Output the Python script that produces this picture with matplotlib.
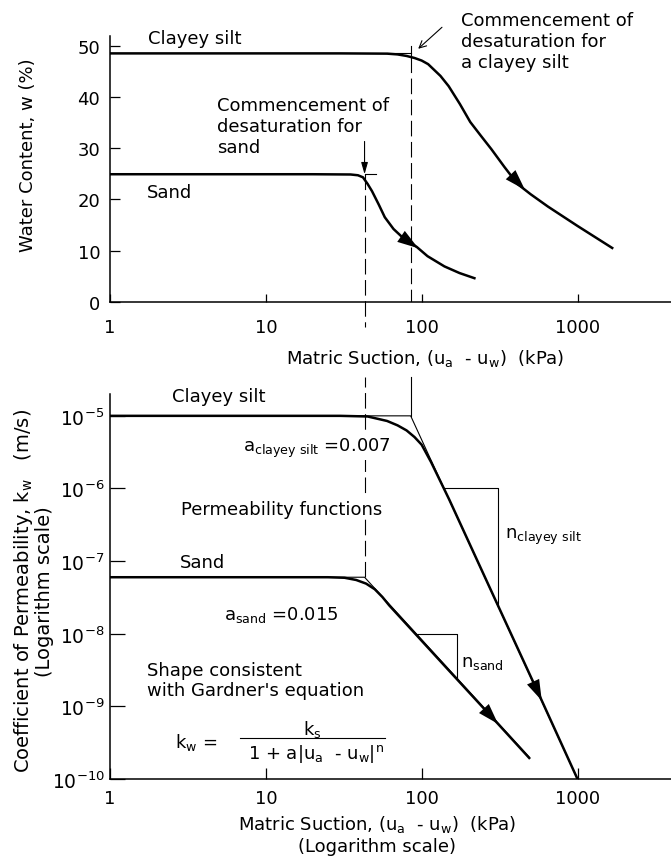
import numpy as np
import matplotlib.pyplot as plt
from matplotlib.ticker import FixedLocator, FixedFormatter, NullLocator

plt.rcParams['font.family'] = ['DejaVu Sans']
plt.rcParams['mathtext.fontset'] = 'dejavusans'
plt.rcParams['mathtext.default'] = 'regular'

# ---- soil-water characteristic curves (top) ----
silt_suction = [1, 30, 60, 70, 80, 90, 100, 110, 132, 149, 176, 205, 240, 280, 340,
                412, 500, 645, 1000, 1670]
silt_w = [48.5, 48.5, 48.45, 48.3, 48.0, 47.6, 47.1, 46.4, 44.1, 42.1, 38.6, 35.1, 32.4,
          29.8, 26.3, 23.0, 21.0, 18.6, 14.8, 10.5]
sand_suction = [1, 20, 35, 39, 42, 45, 48, 53, 58, 66, 77, 93, 109, 140, 175, 218]
sand_w = [24.9, 24.9, 24.85, 24.7, 24.3, 23.0, 21.6, 19.0, 16.5, 14.2, 12.3, 10.7, 8.9,
          6.9, 5.6, 4.6]

# ---- permeability functions (bottom) ----
silt_k_suction = [1, 30, 45, 60, 70, 80, 90, 100, 115, 150, 300, 590, 1000]
silt_k = [1.0e-5, 1.0e-5, 9.8e-6, 8.5e-6, 7.4e-6, 6.3e-6, 5.1e-6, 4.0e-6, 2.3e-6, 7.1e-7,
          2.8e-8, 1.2e-9, 1.0e-10]
sand_k_suction = [1, 25, 32, 38, 44, 50, 56, 62, 80, 150, 309, 490]
sand_k = [6.0e-8, 6.0e-8, 5.9e-8, 5.5e-8, 4.9e-8, 4.1e-8, 3.2e-8, 2.45e-8, 1.35e-8, 3.1e-9,
          5.75e-10, 1.95e-10]

# straight-line asymptotes of Gardner's equation
silt_asym_suction = [1, 85, 1000]
silt_asym_k = [1.0e-5, 1.0e-5, 1.0e-10]
sand_asym_suction = [1, 43, 490]
sand_asym_k = [6.0e-8, 6.0e-8, 2.0e-10]

# commencement of desaturation (kPa)
silt_aev = 85
sand_aev = 43

x_ticks = [1, 10, 100, 1000]
x_labels = ['1', '10', '100', '1000']
w_ticks = [0, 10, 20, 30, 40, 50]
k_ticks = [1e-10, 1e-9, 1e-8, 1e-7, 1e-6, 1e-5]
k_labels = ['10$^{-10}$', '10$^{-9}$', '10$^{-8}$', '10$^{-7}$', '10$^{-6}$', '10$^{-5}$']

FS = 13
HEAVY = 1.8
THIN = 0.8
DASH = (0, (14, 5))


def head(ax, xs, ys, x_tip, logy=False):
    # filled arrow head sitting on a curve
    lx = np.log10(xs)
    yy = np.log10(ys) if logy else np.asarray(ys, float)
    t1 = np.log10(x_tip)
    t0 = t1 - 0.1
    y1 = np.interp(t1, lx, yy)
    y0 = np.interp(t0, lx, yy)
    if logy:
        y0, y1 = 10**y0, 10**y1
    ax.annotate('', xy=(x_tip, y1), xytext=(10**t0, y0),
                arrowprops=dict(arrowstyle='-|>,head_length=1.0,head_width=0.32',
                                mutation_scale=15, lw=0, fc='k',
                                shrinkA=0, shrinkB=0))


def slope_tri(ax, xs, ks, level, x_right):
    lx = np.log10(xs)
    lk = np.log10(ks)
    x_hit = 10**np.interp(np.log10(level), lk[::-1], lx[::-1])
    k_low = 10**np.interp(np.log10(x_right), lx, lk)
    ax.plot([x_hit, x_right, x_right], [level, level, k_low], color='k', lw=THIN)


fig = plt.figure(figsize=(6.71, 8.62), dpi=100)
ax1 = fig.add_axes([110/671, 0.6488, 561/671, 0.3083])
ax2 = fig.add_axes([110/671, 0.0951, 561/671, 0.4466])

for ax in (ax1, ax2):
    ax.set_xscale('log')
    ax.set_xlim(1, 3981)
    ax.spines['top'].set_visible(False)
    ax.spines['right'].set_visible(False)
    for s in ('left', 'bottom'):
        ax.spines[s].set_linewidth(1.1)
    ax.xaxis.set_major_locator(FixedLocator(x_ticks))
    ax.xaxis.set_major_formatter(FixedFormatter(x_labels))
    ax.xaxis.set_minor_locator(NullLocator())

# ---------------- top ----------------
ax1.set_ylim(0, 51.9)
ax1.set_yticks(w_ticks)
ax1.tick_params(axis='y', direction='in', length=7, width=0.9, labelsize=FS, pad=7)
ax1.tick_params(axis='x', direction='in', length=6, width=0.9, labelsize=FS, pad=12)

ax1.plot(silt_suction, silt_w, color='k', lw=HEAVY)
ax1.plot(sand_suction, sand_w, color='k', lw=HEAVY)
head(ax1, silt_suction, silt_w, 460)
head(ax1, sand_suction, sand_w, 95)

# markers at the commencement of desaturation
ax1.plot([60, silt_aev], [48.5, 48.5], color='k', lw=THIN)
ax1.plot([silt_aev, silt_aev], [50.0, 47.8], color='k', lw=THIN)
ax1.plot([silt_aev, silt_aev], [47.8, 0], color='k', lw=THIN, ls=DASH)
ax1.plot([sand_aev, 51], [24.9, 24.9], color='k', lw=THIN)
ax1.plot([sand_aev, sand_aev], [24.9, -5], color='k', lw=THIN, ls=DASH, clip_on=False)
ax1.annotate('', xy=(sand_aev, 24.9), xytext=(sand_aev, 31.3),
             arrowprops=dict(arrowstyle='-|>,head_length=0.7,head_width=0.2',
                             mutation_scale=10, lw=THIN, color='k',
                             shrinkA=0, shrinkB=0), annotation_clip=False)
ax1.annotate('', xy=(95, 49.4), xytext=(135, 53.6),
             arrowprops=dict(arrowstyle='->,head_length=0.5,head_width=0.25',
                             mutation_scale=10, lw=THIN, color='k',
                             shrinkA=0, shrinkB=0), annotation_clip=False)

ax1.text(1.75, 51.5, 'Clayey silt', fontsize=FS, va='center')
ax1.text(1.73, 21.4, 'Sand', fontsize=FS, va='center')
ax1.text(4.86, 34.3, 'Commencement of\ndesaturation for\nsand', fontsize=FS,
         va='center', linespacing=1.2)
ax1.text(179, 50.9, 'Commencement of\ndesaturation for\na clayey silt', fontsize=FS,
         va='center', linespacing=1.2, clip_on=False)

ax1.set_ylabel('Water Content, w (%)', fontsize=FS, va='center')
ax1.yaxis.set_label_coords(-0.146, 0.556)
ax1.set_xlabel('Matric Suction, (u$_a$  - u$_w$)  (kPa)', fontsize=FS, va='center')
ax1.xaxis.set_label_coords(0.561, -0.208)

# ---------------- bottom ----------------
ax2.set_yscale('log')
ax2.set_ylim(1e-10, 10**-4.70)
ax2.yaxis.set_major_locator(FixedLocator(k_ticks))
ax2.yaxis.set_major_formatter(FixedFormatter(k_labels))
ax2.yaxis.set_minor_locator(NullLocator())
ax2.tick_params(axis='y', direction='in', length=11, width=0.9, labelsize=FS + 0.5, pad=4)
ax2.tick_params(axis='x', direction='in', length=8, width=0.9, labelsize=FS, pad=7)

ax2.plot(silt_asym_suction, silt_asym_k, color='k', lw=THIN)
ax2.plot(sand_asym_suction, sand_asym_k, color='k', lw=THIN)
ax2.plot(silt_k_suction, silt_k, color='k', lw=HEAVY)
ax2.plot(sand_k_suction, sand_k, color='k', lw=HEAVY)
head(ax2, silt_k_suction, silt_k, 590, logy=True)
head(ax2, sand_k_suction, sand_k, 309, logy=True)

ax2.plot([silt_aev, silt_aev], [1e-5, 10**-4.46], color='k', lw=THIN, clip_on=False)
ax2.plot([sand_aev, sand_aev], [6.0e-8, 10**-4.46], color='k', lw=THIN, ls=DASH,
         clip_on=False)

slope_tri(ax2, silt_asym_suction[1:], silt_asym_k[1:], 1e-6, 310)
slope_tri(ax2, sand_asym_suction[1:], sand_asym_k[1:], 1e-8, 168)

wbox = dict(fc='white', ec='none', pad=1)
ax2.text(2.5, 10**-4.72, 'Clayey silt', fontsize=FS, va='center')
ax2.text(7.16, 10**-5.43, 'a$_{clayey\\ silt}$ =0.007', fontsize=FS, va='center',
         bbox=wbox, zorder=5)
ax2.text(2.86, 10**-6.28, 'Permeability functions', fontsize=FS, va='center',
         bbox=wbox, zorder=5)
ax2.text(2.81, 10**-7.01, 'Sand', fontsize=FS, va='center')
ax2.text(5.4, 10**-7.73, 'a$_{sand}$ =0.015', fontsize=FS, va='center')
ax2.text(343, 10**-6.65, 'n$_{clayey\\ silt}$', fontsize=FS, va='center')
ax2.text(179, 10**-8.39, 'n$_{sand}$', fontsize=FS, va='center')
ax2.text(1.73, 10**-8.64, "Shape consistent\nwith Gardner's equation", fontsize=FS,
         va='center', linespacing=1.15)

# Gardner's equation
ax2.text(2.61, 10**-9.49, 'k$_w$ =', fontsize=FS, va='center')
ax2.plot([6.83, 58.3], [10**-9.435, 10**-9.435], color='k', lw=THIN)
ax2.text(19.8, 10**-9.30, 'k$_s$', fontsize=FS, ha='center', va='center')
ax2.text(21, 10**-9.64, '1 + a|u$_a$  - u$_w$|$^n$', fontsize=FS, ha='center', va='center')

ax2.set_ylabel('Coefficient of Permeability, k$_w$   (m/s)\n(Logarithm scale)',
               fontsize=FS + 1, va='center', linespacing=1.0)
ax2.yaxis.set_label_coords(-0.137, 0.49)
ax2.set_xlabel('Matric Suction, (u$_a$  - u$_w$)  (kPa)\n(Logarithm scale)',
               fontsize=FS, va='center', linespacing=1.2)
ax2.xaxis.set_label_coords(0.476, -0.143)

fig.savefig('out.png', dpi=100)
